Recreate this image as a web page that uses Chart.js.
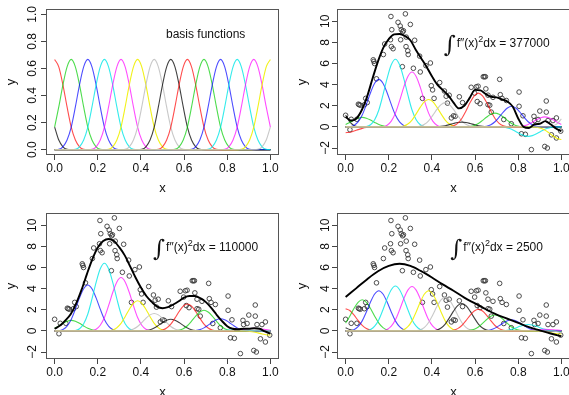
<!DOCTYPE html>
<html><head><meta charset="utf-8">
<script src="https://cdn.jsdelivr.net/npm/chart.js@4/dist/chart.umd.min.js"></script>
<style>
html,body{margin:0;padding:0;background:#fff;overflow:hidden;width:569px;height:395px;}
canvas{position:absolute;left:0;top:0;}
</style></head><body>
<canvas id="c1" width="580" height="400"></canvas>
<canvas id="c2" width="580" height="400"></canvas>
<canvas id="c3" width="580" height="400"></canvas>
<canvas id="c4" width="580" height="400"></canvas>
<script>
// ---------- data ----------
const xTicks = [0, 0.2, 0.4, 0.6, 0.8, 1.0];
const xTickLabels = ["0.0", "0.2", "0.4", "0.6", "0.8", "1.0"];
const yTicksBasis = [0, 0.2, 0.4, 0.6, 0.8, 1.0];
const yTickLabelsBasis = ["0.0", "0.2", "0.4", "0.6", "0.8", "1.0"];
const yTicksFit = [-2, 0, 2, 4, 6, 8, 10];
const yTickLabelsFit = ["\u22122", "0", "2", "4", "6", "8", "10"];

// observed data points
const obsX = [0.000,0.020,0.026,0.052,0.059,0.063,0.068,0.087,0.093,0.100,0.128,0.131,0.134,0.143,0.175,0.181,0.208,0.210,0.214,0.212,0.220,0.243,0.253,0.258,0.264,0.268,0.255,0.263,0.277,0.281,0.280,0.288,0.290,0.300,0.314,0.320,0.343,0.346,0.356,0.372,0.393,0.397,0.403,0.410,0.436,0.458,0.466,0.472,0.480,0.500,0.508,0.490,0.527,0.542,0.582,0.598,0.606,0.614,0.610,0.623,0.638,0.643,0.648,0.650,0.660,0.668,0.660,0.675,0.683,0.714,0.717,0.725,0.745,0.733,0.768,0.804,0.804,0.815,0.833,0.822,0.861,0.873,0.876,0.892,0.900,0.923,0.935,0.930,0.930,0.954,0.961,0.977,0.977,0.938,0.997];
const obsY = [1.10,-0.27,0.72,0.72,2.15,2.10,2.05,2.10,2.70,2.30,6.35,6.20,6.00,4.55,6.85,7.85,8.25,10.45,9.20,7.60,7.40,9.90,9.55,9.20,9.00,9.10,8.25,5.70,10.70,8.50,7.60,7.20,6.85,9.70,5.55,8.20,6.70,5.20,2.70,5.80,6.05,3.90,3.50,2.70,4.20,3.40,2.90,2.25,3.00,1.05,1.00,0.85,2.85,2.30,3.75,3.20,3.80,3.85,2.40,2.20,4.75,4.75,4.75,3.60,2.10,2.05,3.00,1.40,2.80,4.50,3.05,2.70,2.50,0.70,0.30,3.30,1.95,-0.65,-0.70,1.05,-2.15,1.00,0.60,0.70,1.50,-1.85,-2.00,2.45,1.40,-0.75,0.60,-1.05,0.85,0.60,-0.40];

// cubic B-spline basis: peak locations, and unit-peak profile at quarter-knot steps
const knotStep = 0.076923;
const basisCenters = [-0.0769,0,0.0769,0.1538,0.2308,0.3077,0.3846,0.4615,0.5385,0.6154,0.6923,0.7692,0.8462,0.9231,1.0,1.0769];
const basisProfile = [0,0.0039,0.0313,0.1055,0.25,0.4727,0.7188,0.918,1,0.918,0.7188,0.4727,0.25,0.1055,0.0313,0.0039,0];
const basisColors = ["rgba(0,0,0,0.75)","rgba(255,0,0,0.7)","rgba(0,205,0,0.7)","rgba(0,0,255,0.7)","rgba(0,230,230,0.8)","rgba(255,0,255,0.7)","rgba(240,240,0,0.9)","rgba(190,190,190,0.85)"];

// peak heights of each weighted basis function per panel
const heightsBasis   = [0.667,0.667,0.667,0.667,0.667,0.667,0.667,0.667,0.667,0.667,0.667,0.667,0.667,0.667,0.667,0.667];
const heights377000  = [4.5,-0.55,0.9,4.5,6.4,5.2,2.6,2.3,0.45,3.2,1.3,1.95,-0.9,0.95,-1.2,3.0];
const heights110000  = [0,0,1.0,4.35,6.4,5.05,2.85,1.65,1.1,2.55,1.95,1.15,0.1,0.25,-0.4,0];
const heights2500    = [1.2,2.1,2.95,3.8,4.25,4.2,3.8,3.2,2.6,2.05,1.5,1.05,0.6,0.15,-0.3,-0.7];

// fitted curves
const fitXFine = [0,0.025,0.05,0.075,0.1,0.125,0.15,0.175,0.2,0.225,0.25,0.275,0.3,0.325,0.35,0.375,0.4,0.425,0.45,0.475,0.5,0.525,0.55,0.575,0.6,0.625,0.65,0.675,0.7,0.725,0.75,0.775,0.8,0.825,0.85,0.875,0.9,0.925,0.95,0.975,1.0];
const fitY377000 = [0.95,0.6,0.8,1.6,2.9,4.6,6.2,7.5,8.3,8.75,8.8,8.6,8.2,7.3,6.5,5.7,4.8,4.0,3.5,3.0,2.3,1.75,2.0,2.75,3.5,3.45,3.1,2.85,2.8,2.6,2.4,1.9,0.8,0.0,-0.1,0.25,0.3,0.55,0.25,-0.15,-0.4];
const fitY110000 = [0.2,0.5,1.0,1.6,2.6,3.9,5.4,6.8,7.9,8.5,8.7,8.5,7.9,7.15,6.1,5.05,4.1,3.3,2.75,2.3,2.15,2.25,2.5,2.8,3.15,3.3,3.3,3.1,2.75,2.2,1.55,0.95,0.45,0.2,0.15,0.2,0.2,0.25,0.2,-0.05,-0.25];
const fitXCoarse = [0,0.05,0.1,0.15,0.2,0.25,0.3,0.35,0.4,0.45,0.5,0.55,0.6,0.65,0.7,0.75,0.8,0.85,0.9,0.95,1.0];
const fitY2500 = [3.2,4.05,4.9,5.65,6.15,6.35,6.15,5.65,5.05,4.4,3.8,3.15,2.6,2.05,1.55,1.15,0.75,0.35,0.05,-0.25,-0.5];

// ---------- helpers ----------
const FONT = "'Liberation Sans', Arial, Helvetica, sans-serif";

function componentData(center, height) {
  const pts = [];
  for (let k = 0; k < basisProfile.length; k++) {
    const x = +(center + (k - 8) * knotStep / 4).toFixed(5);
    if (x < -1e-4 || x > 1 + 1e-4) continue;
    pts.push({x: Math.min(1, Math.max(0, x)), y: height * basisProfile[k]});
  }
  if (pts[0].x > 1e-4) pts.unshift({x: 0, y: 0});
  if (pts[pts.length - 1].x < 1 - 1e-4) pts.push({x: 1, y: 0});
  return pts;
}

function componentSets(heights) {
  return heights.map((h, i) => ({
    type: 'line',
    data: componentData(basisCenters[i], h),
    borderColor: basisColors[i % 8],
    borderWidth: 1.1,
    pointRadius: 0,
    cubicInterpolationMode: 'monotone',
    order: 100 - i
  }));
}

function fitSet(xs, ys) {
  return {
    type: 'line',
    data: xs.map((x, i) => ({x, y: ys[i]})),
    borderColor: '#000',
    borderWidth: 1.9,
    pointRadius: 0,
    cubicInterpolationMode: 'monotone',
    order: 0
  };
}

function pointSet() {
  return {
    type: 'scatter',
    data: obsX.map((x, i) => ({x, y: obsY[i]})),
    showLine: false,
    pointStyle: 'circle',
    pointRadius: 2.3,
    pointBorderWidth: 0.9,
    pointBorderColor: '#3a3a3a',
    pointBackgroundColor: 'rgba(0,0,0,0)',
    order: 200
  };
}

function drawIntegral(ctx, cx, cy, value) {
  const main = "f\u2033(x)";
  const sup = "2";
  const rest = "dx = " + value;
  ctx.font = "23px 'DejaVu Serif', serif";
  const wi = ctx.measureText("\u222B").width;
  ctx.font = "12px " + FONT;
  const wm = ctx.measureText(main).width;
  const wr = ctx.measureText(rest).width;
  ctx.font = "9px " + FONT;
  const ws = ctx.measureText(sup).width;
  const total = wi + 1 + wm + ws + wr;
  let x = cx - total / 2;
  const base = cy + 4.3;
  ctx.textAlign = 'left';
  ctx.textBaseline = 'alphabetic';
  ctx.font = "23px 'DejaVu Serif', serif";
  ctx.fillText("\u222B", x, base + 5);
  x += wi + 1;
  ctx.font = "12px " + FONT;
  ctx.fillText(main, x, base);
  x += wm;
  ctx.font = "9px " + FONT;
  ctx.fillText(sup, x, base - 5);
  x += ws;
  ctx.font = "12px " + FONT;
  ctx.fillText(rest, x, base);
}

function makeChart(id, box, yMin, yMax, yTicks, yLabels, yLabOff, datasets, annot) {
  const W = 580, H = 400;
  const decor = {
    id: 'decor' + id,
    afterDraw(chart) {
      const ctx = chart.ctx;
      const a = chart.chartArea;
      const xs = chart.scales.x, ys = chart.scales.y;
      ctx.save();
      ctx.strokeStyle = '#555';
      ctx.lineWidth = 1;
      ctx.strokeRect(Math.round(a.left) + 0.5, Math.round(a.top) + 0.5, Math.round(a.right - a.left) - 1, Math.round(a.bottom - a.top) - 1);
      ctx.fillStyle = '#111';
      ctx.font = "12px " + FONT;
      ctx.textAlign = 'center';
      ctx.textBaseline = 'alphabetic';
      xTicks.forEach((v, i) => {
        ctx.fillText(xTickLabels[i], xs.getPixelForValue(v), a.bottom + 17.3);
      });
      yTicks.forEach((v, i) => {
        ctx.save();
        ctx.translate(a.left - yLabOff, ys.getPixelForValue(v));
        ctx.rotate(-Math.PI / 2);
        ctx.fillText(yLabels[i], 0, 0);
        ctx.restore();
      });
      ctx.font = "13px " + FONT;
      ctx.fillText("x", (a.left + a.right) / 2, a.bottom + 36.8);
      ctx.save();
      ctx.translate(a.left - 31.5, (a.top + a.bottom) / 2);
      ctx.rotate(-Math.PI / 2);
      ctx.fillText("y", 0, 0);
      ctx.restore();
      ctx.font = "12px " + FONT;
      if (annot) {
        const px = xs.getPixelForValue(annot.x), py = ys.getPixelForValue(annot.y);
        if (annot.text) {
          ctx.textBaseline = 'middle';
          ctx.fillText(annot.text, px, py);
        } else {
          drawIntegral(ctx, px, py, annot.value);
        }
      }
      ctx.restore();
    }
  };
  const tickGrid = {display: true, drawOnChartArea: false, drawTicks: true, tickLength: 5, color: '#444', lineWidth: 1};
  return new Chart(document.getElementById(id), {
    type: 'line',
    data: {datasets},
    options: {
      responsive: false,
      animation: false,
      events: [],
      layout: {padding: {left: box.l, top: box.t, right: W - box.r, bottom: H - box.b}},
      plugins: {legend: {display: false}, tooltip: {enabled: false}},
      scales: {
        x: {
          type: 'linear', min: -0.04, max: 1.04,
          afterBuildTicks: s => { s.ticks = xTicks.map(v => ({value: v})); },
          afterFit: s => { s.height = 0; },
          ticks: {display: false},
          grid: tickGrid,
          border: {display: false}
        },
        y: {
          type: 'linear', min: yMin, max: yMax,
          afterBuildTicks: s => { s.ticks = yTicks.map(v => ({value: v})); },
          afterFit: s => { s.width = 0; },
          ticks: {display: false},
          grid: tickGrid,
          border: {display: false}
        }
      }
    },
    plugins: [decor]
  });
}

const yLo = -2.66, yHi = 11.16;

makeChart('c1', {l: 46, t: 9, r: 279, b: 155}, -0.04, 1.04, yTicksBasis, yTickLabelsBasis, 9.7,
  componentSets(heightsBasis), {x: 0.7, y: 0.85, text: "basis functions"});

makeChart('c2', {l: 337, t: 9, r: 570, b: 155}, yLo, yHi, yTicksFit, yTickLabelsFit, 8.3,
  [pointSet(), ...componentSets(heights377000), fitSet(fitXFine, fitY377000)], {x: 0.7, y: 8, value: "377000"});

makeChart('c3', {l: 46, t: 213, r: 279, b: 359}, yLo, yHi, yTicksFit, yTickLabelsFit, 9.7,
  [pointSet(), ...componentSets(heights110000), fitSet(fitXFine, fitY110000)], {x: 0.7, y: 8, value: "110000"});

makeChart('c4', {l: 337, t: 213, r: 570, b: 359}, yLo, yHi, yTicksFit, yTickLabelsFit, 8.3,
  [pointSet(), ...componentSets(heights2500), fitSet(fitXCoarse, fitY2500)], {x: 0.7, y: 8, value: "2500"});
</script>
</body></html>
